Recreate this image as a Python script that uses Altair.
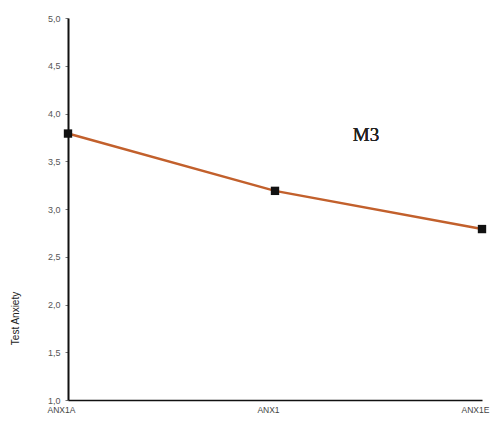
import altair as alt
import pandas as pd

conditions = ["ANX1A", "ANX1", "ANX1E"]
means = [3.79, 3.19, 2.79]
y_ticks = [1.0, 1.5, 2.0, 2.5, 3.0, 3.5, 4.0, 4.5, 5.0]

df = pd.DataFrame({"cond": conditions, "mean": means})

x_enc = alt.X(
    "cond:N", sort=conditions, title=None,
    scale=alt.Scale(type="point", padding=0),
    axis=alt.Axis(labelAngle=0, labelFont="Liberation Sans", labelFontSize=8.5,
                  labelColor="#444", ticks=False, domainColor="#111",
                  domainWidth=1.5, labelPadding=5, labelOffset=-7, labelBound=False),
)
y_enc = alt.Y(
    "mean:Q", title="Test Anxiety",
    scale=alt.Scale(domain=[1, 5], nice=False, zero=False),
    axis=alt.Axis(values=y_ticks, labelExpr="replace(format(datum.value, '.1f'), '.', ',')",
                  labelFont="Liberation Sans", labelFontSize=9, labelColor="#555",
                  tickSize=3, tickColor="#777", grid=False, domainColor="#111",
                  domainWidth=2, labelPadding=5,
                  titleFont="Liberation Sans", titleFontSize=10, titleFontWeight="normal",
                  titleColor="#222", titleY=300, titleX=-48),
)

line = alt.Chart(df).mark_line(color="#c2602c", strokeWidth=2.5).encode(x=x_enc, y=y_enc)
pts = alt.Chart(df).mark_square(color="#111", size=70, opacity=1).encode(x=x_enc, y=y_enc)
label = alt.Chart(df).mark_text(text="M3", font="Liberation Serif", fontSize=19,
                                color="#222").encode(x=alt.value(298), y=alt.value(117))

chart = alt.layer(line, pts, label).properties(
    width=414, height=382,
    padding={"left": 60, "top": 10, "right": 9, "bottom": 20},
    autosize=alt.AutoSizeParams(type="none"),
).configure_view(stroke=None)

chart.save("out.html", embed_options={"renderer": "svg", "actions": False})
